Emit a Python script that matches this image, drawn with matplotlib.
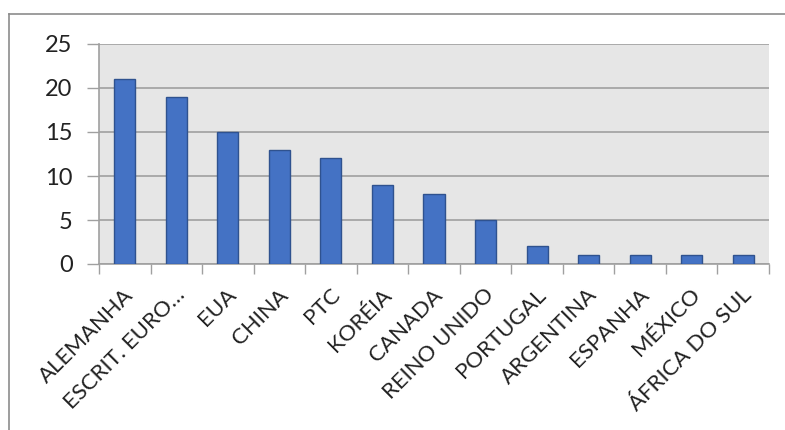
import matplotlib
matplotlib.use("Agg")
import matplotlib.pyplot as plt
from matplotlib.lines import Line2D

categories = ["ALEMANHA", "ESCRIT. EURO…", "EUA", "CHINA", "PTC", "KORÉIA",
              "CANADA", "REINO UNIDO", "PORTUGAL", "ARGENTINA", "ESPANHA",
              "MÉXICO", "ÁFRICA DO SUL"]
values = [21, 19, 15, 13, 12, 9, 8, 5, 2, 1, 1, 1, 1]
y_ticks = [0, 5, 10, 15, 20, 25]

W, H = 785, 430
plt.rcParams["font.family"] = ["Lato", "DejaVu Sans"]
fig = plt.figure(figsize=(W / 100, H / 100), dpi=100)

left, right, top, bottom = 99, 769, 44, 264
ax = fig.add_axes([left / W, 1 - bottom / H, (right - left) / W, (bottom - top) / H])
ax.set_facecolor("#E6E6E6")

n = len(categories)
x = list(range(n))
ax.bar(x, values, width=0.41, color="#4472C4", edgecolor="#2F528F",
       linewidth=1.0, zorder=3)

ax.set_xlim(-0.5, n - 0.5)
ax.set_ylim(0, 25)
ax.set_yticks(y_ticks)
ax.set_yticklabels([str(v) for v in y_ticks], fontsize=17, color="#222222")
ax.yaxis.grid(True, color="#A0A0A0", linewidth=1.2, zorder=1)
ax.set_axisbelow(True)

# category boundary ticks on the x axis
ax.set_xticks([i - 0.5 for i in range(n + 1)])
ax.set_xticklabels([])
ax.tick_params(axis="x", length=7, width=1, color="#A0A0A0", direction="out")
ax.tick_params(axis="y", length=9, width=1, color="#A0A0A0", direction="out", pad=10)

for i, name in enumerate(categories):
    ax.annotate(name, xy=(i, 0), xycoords="data",
                xytext=(-1, -15), textcoords="offset points",
                rotation=45, ha="right", va="top", rotation_mode="anchor",
                fontsize=16, color="#222222")

for s in ["top", "right"]:
    ax.spines[s].set_visible(False)
for s in ["left", "bottom"]:
    ax.spines[s].set_color("#A0A0A0")
    ax.spines[s].set_linewidth(1.2)

# outer chart frame
fig.add_artist(Line2D([9 / W, 1], [1 - 14 / H, 1 - 14 / H], color="#8C8C8C",
                      linewidth=1.2, transform=fig.transFigure))
fig.add_artist(Line2D([9 / W, 9 / W], [0, 1 - 14 / H], color="#8C8C8C",
                      linewidth=1.2, transform=fig.transFigure))

fig.savefig("out.png", dpi=100, facecolor="white")
